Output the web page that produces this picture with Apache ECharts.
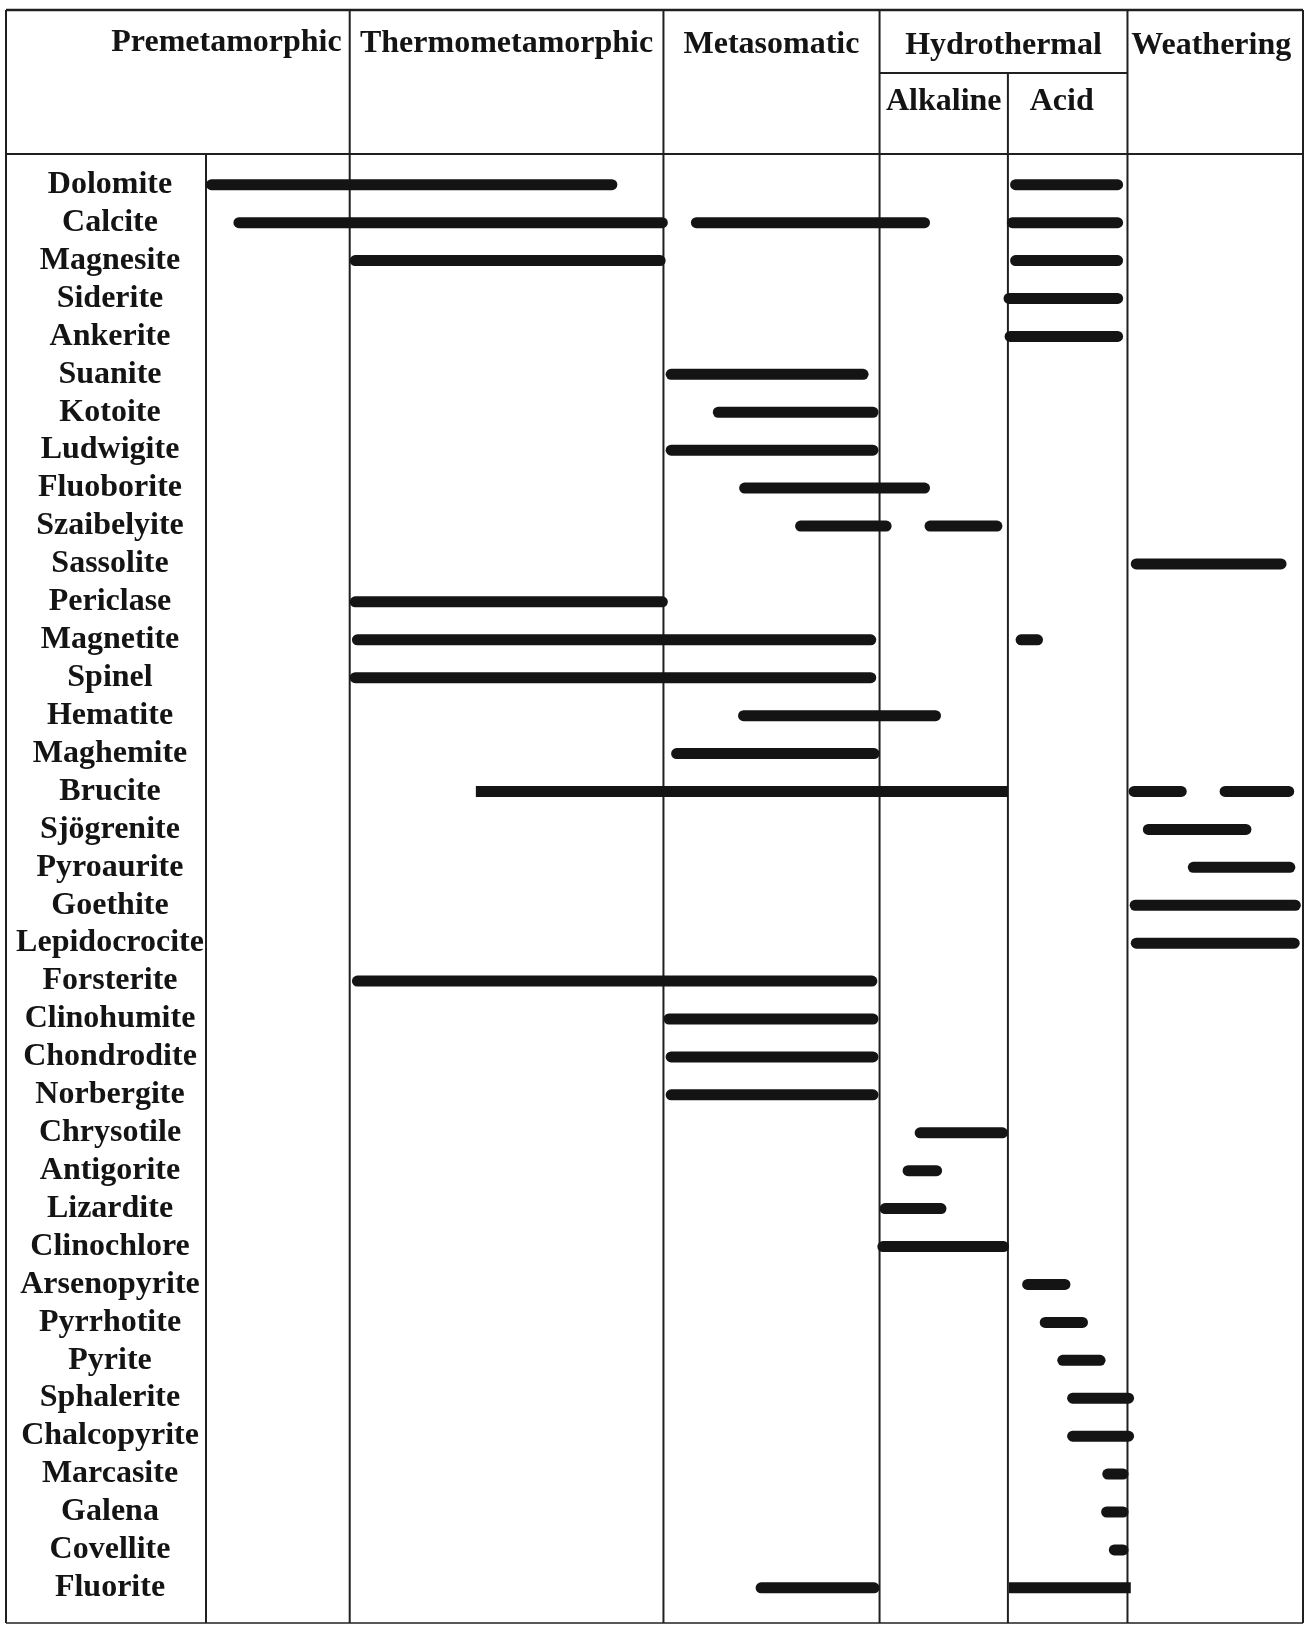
<!DOCTYPE html>
<html><head><meta charset="utf-8">
<script src="https://cdn.jsdelivr.net/npm/echarts@6/dist/echarts.min.js"></script>
<style>html,body{margin:0;padding:0;background:#fff}#c{width:1311px;height:1625px}</style>
</head><body><div id="c"></div>
<script>
// ---- data ----
const minerals = ['Dolomite','Calcite','Magnesite','Siderite','Ankerite','Suanite','Kotoite','Ludwigite',
  'Fluoborite','Szaibelyite','Sassolite','Periclase','Magnetite','Spinel','Hematite','Maghemite','Brucite',
  'Sjögrenite','Pyroaurite','Goethite','Lepidocrocite','Forsterite','Clinohumite','Chondrodite','Norbergite',
  'Chrysotile','Antigorite','Lizardite','Clinochlore','Arsenopyrite','Pyrrhotite','Pyrite','Sphalerite',
  'Chalcopyrite','Marcasite','Galena','Covellite','Fluorite'];
const stageNames = ['Premetamorphic','Thermometamorphic','Metasomatic','Hydrothermal','Weathering'];
const subStageNames = ['Alkaline','Acid'];
// boundaries on the formation-sequence axis (0-100): start | premeta | thermo | meta | alkaline | acid | weathering end
const stageBounds = [0, 13.1, 41.7, 61.4, 73.1, 84.0, 100];

// one entry per bar: mineral row, start and end on the sequence axis
const barRow  = [0,0, 1,1,1, 2,2, 3, 4, 5, 6, 7, 8, 9,9, 10, 11, 12,12, 13, 14, 15, 16,16,16, 17, 18, 19, 20,
  21, 22, 23, 24, 25, 26, 27, 28, 29, 30, 31, 32, 33, 34, 35, 36, 37,37];
const barFrom = [0,73.3, 2.5,44.2,73.0, 13.1,73.3, 72.7, 72.8, 41.9, 46.2, 41.9, 48.6, 53.7,65.5, 84.3, 13.1,
  13.3,73.8, 13.1, 48.5, 42.4, 24.6,84.1,92.4, 85.4, 89.5, 84.2, 84.3,
  13.3, 41.7, 41.9, 41.9, 64.6, 63.5, 61.4, 61.2, 74.4, 76.0, 77.6, 78.5, 78.5, 81.7, 81.6, 82.3, 50.1,73.2];
const barTo   = [37.5,83.6, 42.1,66.0,83.6, 41.9,83.6, 83.6, 83.6, 60.4, 61.3, 61.3, 66.0, 62.5,72.6, 98.5, 42.1,
  61.1,76.3, 61.1, 67.0, 61.4, 73.1,89.4,99.2, 95.3, 99.3, 99.8, 99.7,
  61.2, 61.3, 61.3, 61.3, 73.1, 67.1, 67.5, 73.2, 78.8, 80.4, 82.0, 84.6, 84.6, 84.1, 84.1, 84.1, 61.4,84.3];

// ---- style ----
const squareBars = new Set([22, 46]); // bar indices drawn with square ends
const FONT = '"Liberation Serif", "Times New Roman", serif';
const INK = '#141414';
const LINE = '#202020';
const BAR_H = 11;

const chart = echarts.init(document.getElementById('c'), null, {renderer: 'canvas'});
const rowIdx = minerals.map((_, i) => i);

chart.setOption({
  backgroundColor: '#fff',
  animation: false,
  grid: {left: 206, right: 8, top: 154, bottom: 0, containLabel: false, outerBoundsMode: 'none'},
  xAxis: {type: 'value', min: 0, max: 100, show: false, splitLine: {show: false}},
  yAxis: {
    type: 'value', inverse: true, min: -0.81, max: 37.98,
    axisLine: {show: false}, axisTick: {show: false}, splitLine: {show: false},
    axisLabel: {
      customValues: rowIdx, hideOverlap: false, showMinLabel: true, showMaxLabel: true,
      formatter: v => minerals[Math.round(v)] || '',
      align: 'center', margin: 96,
      fontFamily: FONT, fontWeight: 'bold', fontSize: 32, color: INK
    }
  },
  series: [{
    type: 'custom', clip: false, z: 5,
    encode: {x: [1, 2], y: 0},
    data: barRow.map((r, i) => [r, barFrom[i], barTo[i], squareBars.has(i) ? 1 : 0]),
    renderItem: (params, api) => {
      const row = api.value(0);
      const a = api.coord([api.value(1), row]);
      const b = api.coord([api.value(2), row]);
      return {
        type: 'rect',
        shape: {x: a[0], y: a[1] - BAR_H / 2, width: b[0] - a[0], height: BAR_H, r: api.value(3) ? 0 : BAR_H / 2},
        style: {fill: INK}
      };
    }
  }]
});

// ---- table frame & header (layout) ----
const xs = stageBounds.map(v => chart.convertToPixel({xAxisIndex: 0}, v));
const TOP = 10, HEAD_BOT = 154, SUB = 73, BOT = 1623, LEFT = 6;
const g = [];
function hl(x1, x2, y, w) { g.push({type: 'line', z: 1, shape: {x1, y1: y, x2, y2: y}, style: {stroke: LINE, lineWidth: w || 2}}); }
function vl(x, y1, y2, w) { g.push({type: 'line', z: 1, shape: {x1: x, y1, x2: x, y2}, style: {stroke: LINE, lineWidth: w || 2}}); }
hl(LEFT, xs[6], TOP, 2.5);
hl(LEFT, xs[6], HEAD_BOT);
hl(xs[3], xs[5], SUB);
hl(LEFT, xs[6], BOT, 1.5);
vl(LEFT, TOP, BOT);
vl(xs[0], HEAD_BOT, BOT);
[1, 2, 3, 5, 6].forEach(i => vl(xs[i], TOP, BOT));
vl(xs[4], SUB, BOT);

function txt(s, x, y, align) {
  g.push({type: 'text', z: 3, x, y, style: {text: s, fill: INK, font: 'bold 32px ' + FONT,
    align: align || 'center', verticalAlign: 'middle'}});
}
txt(stageNames[0], xs[1] - 8, 43, 'right');
txt(stageNames[1], (xs[1] + xs[2]) / 2, 44);
txt(stageNames[2], (xs[2] + xs[3]) / 2, 45);
txt(stageNames[3], (xs[3] + xs[5]) / 2, 46);
txt(stageNames[4], (xs[5] + xs[6]) / 2 - 4, 46);
txt(subStageNames[0], (xs[3] + xs[4]) / 2, 102);
txt(subStageNames[1], (xs[4] + xs[5]) / 2 - 6, 102);

chart.setOption({graphic: {elements: g}});
</script>
</body></html>
